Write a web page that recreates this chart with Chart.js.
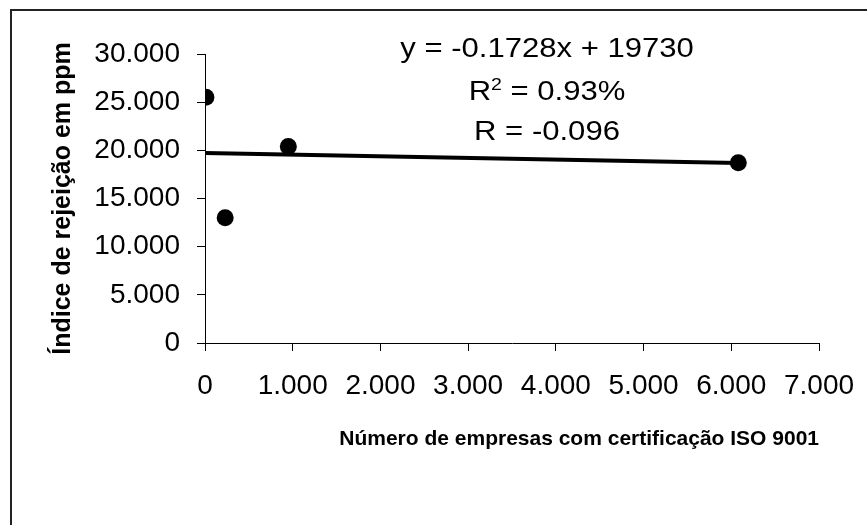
<!DOCTYPE html>
<html><head><meta charset="utf-8">
<script src="https://cdn.jsdelivr.net/npm/chart.js@4.4.1/dist/chart.umd.min.js"></script>
<style>html,body{margin:0;padding:0;background:#fff;overflow:hidden}</style>
</head><body>
<canvas id="c" width="867" height="525"></canvas>
<script>
const companies = [10, 230, 950, 6080];
const rejectionPpm = [25500, 13000, 20400, 18700];
const trendX = [0, 6080];
const trendY = [19730, 18680];
const xTickLabels = ['0', '1.000', '2.000', '3.000', '4.000', '5.000', '6.000', '7.000'];
const yTickLabels = ['0', '5.000', '10.000', '15.000', '20.000', '25.000', '30.000'];
const equationText = 'y = -0.1728x + 19730';
const r2Parts = ['R', '2', ' = 0.93%'];
const rText = 'R = -0.096';
const xTitle = 'Número de empresas com certificação ISO 9001';
const yTitle = 'Índice de rejeição em ppm';

const FAM = "'Liberation Sans', Arial, sans-serif";
Chart.defaults.font.family = FAM;
Chart.defaults.color = '#000';

const framePlugin = {
  id: 'frame',
  beforeDraw(chart) {
    const ctx = chart.ctx;
    ctx.save();
    ctx.fillStyle = '#fff';
    ctx.fillRect(0, 0, chart.width, chart.height);
    ctx.restore();
  },
  afterDraw(chart) {
    const ctx = chart.ctx;
    ctx.save();
    ctx.strokeStyle = '#222';
    ctx.lineWidth = 2;
    ctx.beginPath();
    ctx.moveTo(11, chart.height);
    ctx.lineTo(11, 10);
    ctx.lineTo(chart.width, 10);
    ctx.stroke();

    // regression annotation
    const cx = 547, sx = 1.15;
    ctx.fillStyle = '#000';
    ctx.textBaseline = 'alphabetic';
    const big = '27px ' + FAM, small = '17px ' + FAM;
    ctx.font = big;
    ctx.save(); ctx.translate(cx, 57); ctx.scale(sx, 1);
    ctx.textAlign = 'center'; ctx.fillText(equationText, 0, 0); ctx.restore();

    ctx.save(); ctx.translate(cx, 100); ctx.scale(sx, 1);
    ctx.textAlign = 'left';
    ctx.font = big; const w0 = ctx.measureText(r2Parts[0]).width;
    ctx.font = small; const w1 = ctx.measureText(r2Parts[1]).width;
    ctx.font = big; const w2 = ctx.measureText(r2Parts[2]).width;
    let x = -(w0 + w1 + w2) / 2;
    ctx.font = big; ctx.fillText(r2Parts[0], x, 0); x += w0;
    ctx.font = small; ctx.fillText(r2Parts[1], x, -10); x += w1;
    ctx.font = big; ctx.fillText(r2Parts[2], x, 0);
    ctx.restore();

    ctx.font = big;
    ctx.save(); ctx.translate(cx, 140); ctx.scale(sx, 1);
    ctx.textAlign = 'center'; ctx.fillText(rText, 0, 0); ctx.restore();
    ctx.restore();
  }
};

new Chart(document.getElementById('c'), {
  type: 'scatter',
  data: {
    datasets: [
      {
        label: 'Empresas',
        data: companies.map((v, i) => ({x: v, y: rejectionPpm[i]})),
        backgroundColor: '#000',
        borderColor: '#000',
        borderWidth: 0,
        pointRadius: 8.5,
        pointHoverRadius: 8.5
      },
      {
        type: 'line',
        label: 'Tendência',
        data: trendX.map((v, i) => ({x: v, y: trendY[i]})),
        borderColor: '#000',
        borderWidth: 4,
        pointRadius: 0,
        fill: false,
        showLine: true
      }
    ]
  },
  options: {
    responsive: false,
    animation: false,
    events: [],
    layout: {padding: {left: 0, top: 54, right: 48, bottom: 0}},
    plugins: {legend: {display: false}, tooltip: {enabled: false}},
    scales: {
      x: {
        type: 'linear',
        min: 0, max: 7000,
        afterFit(scale) { scale.height = 182; scale.paddingRight = 0; scale.paddingLeft = 0; },
        ticks: {
          stepSize: 1000,
          autoSkip: false,
          maxRotation: 0,
          padding: 18,
          font: {size: 28},
          color: '#000',
          callback: (v, i) => xTickLabels[i]
        },
        grid: {drawOnChartArea: false, drawTicks: true, tickLength: 8, color: '#000', lineWidth: 1},
        border: {display: true, color: '#000', width: 1},
        title: {
          display: true, text: xTitle, align: 'end',
          font: {size: 21, weight: 'bold'}, color: '#000',
          padding: {top: 0, bottom: 73}
        }
      },
      y: {
        type: 'linear',
        min: 0, max: 30000,
        afterFit(scale) { scale.width = 205; },
        ticks: {
          stepSize: 5000,
          autoSkip: false,
          padding: 17,
          font: {size: 28},
          color: '#000',
          callback: (v, i) => yTickLabels[i]
        },
        grid: {drawOnChartArea: false, drawTicks: true, tickLength: 8, color: '#000', lineWidth: 1},
        border: {display: true, color: '#000', width: 1},
        title: {
          display: true, text: yTitle,
          font: {size: 25, weight: 'bold'}, color: '#000',
          padding: {top: 48, bottom: 0}
        }
      }
    }
  },
  plugins: [framePlugin]
});
</script>
</body></html>
